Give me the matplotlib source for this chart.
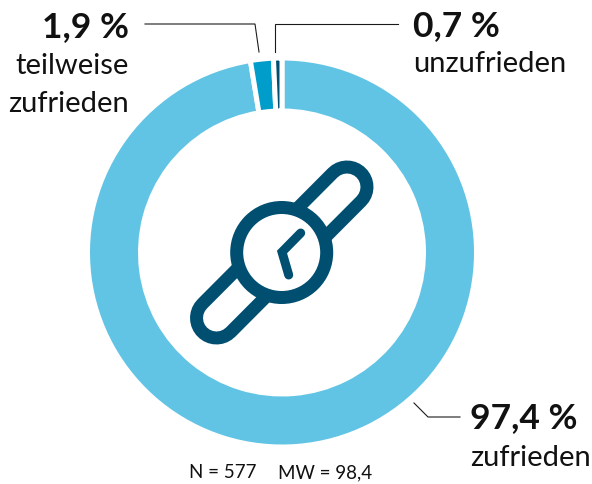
import matplotlib
matplotlib.use("Agg")
import matplotlib.pyplot as plt
from matplotlib.patches import Circle

W, H = 592, 485
values = [97.4, 1.9, 0.7]
colors = ["#62C4E4", "#009DCB", "#004F71"]
DARK = "#004F71"
px = 72 / 100

def Y(y):
    return H - y

fig = plt.figure(figsize=(W / 100, H / 100), dpi=100)
ax = fig.add_axes([0, 0, 1, 1])
cx, cy = 282, 253.5
ax.pie(values, colors=colors, startangle=90, counterclock=False, center=(cx, Y(cy)), radius=194.5,
       wedgeprops=dict(width=53, edgecolor="white", linewidth=5 * px), frame=True)
ax.set_xlim(0, W)
ax.set_ylim(0, H)
ax.axis("off")

# leaders
leaders = [
    ([145, 255, 259], [25, 25, 53]),
    ([275, 275, 398], [53, 25, 25]),
    ([414, 428, 460], [404, 418, 418]),
]
for xs, ys in leaders:
    ax.plot(xs, [Y(v) for v in ys], color="#1a1a1a", lw=1.1 * px, solid_joinstyle="miter")

# watch icon
bx, by = [216.5, 347], [319, 188]
ax.plot(bx, [Y(v) for v in by], color=DARK, lw=53 * px, solid_capstyle="round", zorder=3)
ax.plot(bx, [Y(v) for v in by], color="white", lw=27 * px, solid_capstyle="round", zorder=4)
ax.add_patch(Circle((281.7, Y(253.5)), 45, fc="white", ec=DARK, lw=13 * px, zorder=5))
ax.plot([300.7, 282, 288.7], [Y(234), Y(253), Y(276)], color=DARK, lw=9 * px,
        solid_capstyle="round", solid_joinstyle="miter", zorder=6)

FONT = "Lato"
TXT = "#111111"
def label(x, y, s, size, weight="normal", ha="left"):
    ax.text(x, Y(y), s, fontsize=size, fontweight=weight, ha=ha, va="baseline", family=FONT, color=TXT)

label(129, 37, "1,9 %", 25.5, "bold", "right")
label(129, 74, "teilweise", 21, ha="right")
label(129, 112, "zufrieden", 21, ha="right")
label(413, 36, "0,7 %", 25.5, "bold")
label(413, 72, "unzufrieden", 21)
label(470, 428, "97,4 %", 25.5, "bold")
label(470, 466, "zufrieden", 21)
label(189, 478, "N = 577", 13.5)
label(278, 478, "MW = 98,4", 13.5)

fig.savefig("out.png", dpi=100)
